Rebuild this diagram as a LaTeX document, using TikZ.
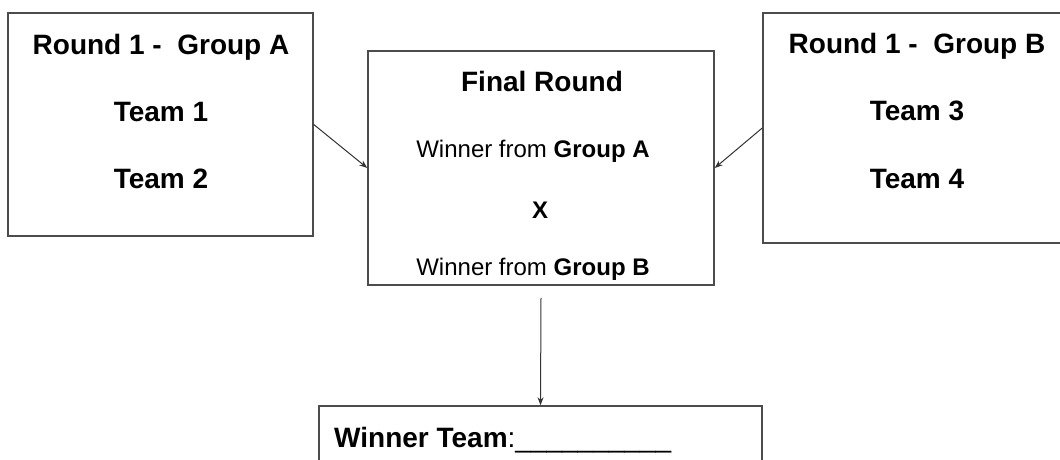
\documentclass[tikz,border=0pt]{standalone}
\usepackage{fontspec}
\setmainfont{Liberation Sans}
\usetikzlibrary{arrows.meta}

\begin{document}
\begin{tikzpicture}[x=1pt, y=-1pt,
                    box/.style={draw=black!70, line width=1.5pt, inner sep=0pt},
                    head/.style={font=\fontsize{28}{34}\selectfont\bfseries, anchor=base, inner sep=0pt},
                    plain/.style={font=\fontsize{24}{29}\selectfont, anchor=base, inner sep=0pt},
                    arrow/.style={black!80, line width=1pt, -{Stealth[length=8pt,width=6pt]}}]

  \useasboundingbox (0,0) rectangle (1060,460);
  \clip (0,0) rectangle (1060,460);

  % boxes
  \node[box, minimum width=305pt, minimum height=223pt] (groupA) at (160.5,124.5) {};
  \node[box, minimum width=346pt, minimum height=234pt] (final) at (541,168) {};
  \node[box, minimum width=308pt, minimum height=230pt] (groupB) at (917,128) {};
  \node[box, minimum width=443pt, minimum height=100pt] (winner) at (540.5,456) {};

  % group A
  \node[head] (titleA) at (161,55) {Round 1 -\ \ Group A};
  \node[head] (team1) at (161,121) {Team 1};
  \node[head] (team2) at (161,188) {Team 2};

  % group B
  \node[head] (titleB) at (917,54) {Round 1 -\ \ Group B};
  \node[head] (team3) at (917,120) {Team 3};
  \node[head] (team4) at (917,188) {Team 4};

  % final round
  \node[head] (titleF) at (542,92) {Final Round};
  \node[plain] (fromA) at (533,157) {Winner from \textbf{Group A}};
  \node[plain, font=\fontsize{24}{29}\selectfont\bfseries] (versus) at (540,218) {X};
  \node[plain] (fromB) at (533,275) {Winner from \textbf{Group B}};

  \node[head, anchor=base west] (result) at (334,447)
    {Winner Team{\mdseries:\_\_\_\_\_\_\_\_\_\_}};

  \coordinate (finalOut) at ([yshift=-12pt]final.south);

  \path[arrow] (groupA.east) edge (final.west)
               (groupB.west) edge (final.east)
               (finalOut) edge (winner.north);
\end{tikzpicture}
\end{document}
